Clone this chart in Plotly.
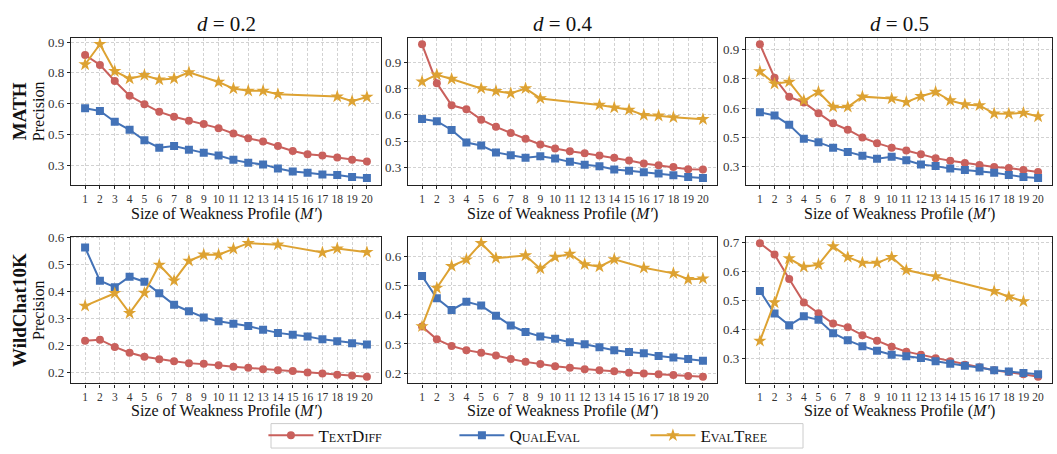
import plotly.graph_objects as go

X = list(range(1, 21))
X_TICKS = [str(v) for v in X]

# ---------------- MATH, d = 0.2 ----------------
math_02_textdiff = [0.837, 0.789, 0.711, 0.639, 0.598, 0.561, 0.537, 0.518, 0.502, 0.482,
                    0.456, 0.433, 0.417, 0.395, 0.371, 0.355, 0.349, 0.339, 0.328, 0.320]
math_02_qualeval = [0.579, 0.565, 0.513, 0.474, 0.423, 0.387, 0.395, 0.377, 0.362, 0.349,
                    0.328, 0.314, 0.306, 0.286, 0.271, 0.265, 0.257, 0.254, 0.245, 0.240]
math_02_evaltree_x = [1, 2, 3, 4, 5, 6, 7, 8, 10, 11, 12, 13, 14, 18, 19, 20]
math_02_evaltree = [0.791, 0.889, 0.758, 0.722, 0.739, 0.717, 0.723, 0.753, 0.706, 0.674,
                    0.663, 0.663, 0.647, 0.635, 0.613, 0.633]

# ---------------- MATH, d = 0.4 ----------------
math_04_textdiff = [1.002, 0.780, 0.654, 0.631, 0.572, 0.531, 0.496, 0.463, 0.430, 0.407,
                    0.391, 0.380, 0.367, 0.354, 0.339, 0.322, 0.311, 0.302, 0.289, 0.287]
math_04_qualeval = [0.576, 0.563, 0.513, 0.441, 0.424, 0.385, 0.369, 0.354, 0.363, 0.350,
                    0.331, 0.315, 0.306, 0.287, 0.280, 0.272, 0.265, 0.254, 0.244, 0.239]
math_04_evaltree_x = [1, 2, 3, 5, 6, 7, 8, 9, 13, 14, 15, 16, 17, 18, 20]
math_04_evaltree = [0.789, 0.828, 0.804, 0.750, 0.735, 0.722, 0.750, 0.693, 0.656, 0.641,
                    0.628, 0.598, 0.594, 0.585, 0.574]

# ---------------- MATH, d = 0.5 ----------------
math_05_textdiff = [0.928, 0.756, 0.658, 0.629, 0.574, 0.522, 0.489, 0.449, 0.420, 0.397,
                    0.382, 0.363, 0.343, 0.330, 0.318, 0.308, 0.298, 0.292, 0.282, 0.272]
math_05_qualeval = [0.579, 0.562, 0.514, 0.442, 0.424, 0.397, 0.375, 0.355, 0.340, 0.350,
                    0.332, 0.310, 0.302, 0.290, 0.282, 0.275, 0.268, 0.257, 0.246, 0.241]
math_05_evaltree_x = [1, 2, 3, 4, 5, 6, 7, 8, 10, 11, 12, 13, 14, 15, 16, 17, 18, 19, 20]
math_05_evaltree = [0.788, 0.725, 0.735, 0.639, 0.683, 0.606, 0.606, 0.659, 0.649, 0.631,
                    0.661, 0.683, 0.639, 0.619, 0.614, 0.572, 0.571, 0.576, 0.557]

# ---------------- WildChat10K, d = 0.2 ----------------
wc_02_textdiff = [0.264, 0.267, 0.247, 0.231, 0.220, 0.213, 0.207, 0.202, 0.200, 0.196,
                  0.192, 0.189, 0.185, 0.182, 0.180, 0.176, 0.173, 0.170, 0.168, 0.164]
wc_02_qualeval = [0.523, 0.431, 0.413, 0.442, 0.428, 0.396, 0.364, 0.346, 0.329, 0.318,
                  0.311, 0.305, 0.295, 0.286, 0.281, 0.276, 0.268, 0.263, 0.257, 0.254]
wc_02_evaltree_x = [1, 3, 4, 5, 6, 7, 8, 9, 10, 11, 12, 14, 17, 18, 20]
wc_02_evaltree = [0.361, 0.396, 0.341, 0.397, 0.475, 0.431, 0.486, 0.503, 0.503, 0.519,
                  0.535, 0.531, 0.509, 0.520, 0.510]

# ---------------- WildChat10K, d = 0.4 ----------------
wc_04_textdiff = [0.360, 0.316, 0.293, 0.279, 0.270, 0.261, 0.249, 0.239, 0.232, 0.224,
                  0.219, 0.214, 0.210, 0.207, 0.202, 0.199, 0.197, 0.194, 0.191, 0.188]
wc_04_qualeval = [0.532, 0.456, 0.416, 0.444, 0.431, 0.396, 0.363, 0.341, 0.326, 0.318,
                  0.306, 0.299, 0.289, 0.279, 0.273, 0.268, 0.259, 0.254, 0.249, 0.243]
wc_04_evaltree_x = [1, 2, 3, 4, 5, 6, 8, 9, 10, 11, 12, 13, 14, 16, 18, 19, 20]
wc_04_evaltree = [0.360, 0.491, 0.566, 0.588, 0.644, 0.593, 0.602, 0.557, 0.597, 0.607,
                  0.572, 0.564, 0.589, 0.560, 0.541, 0.521, 0.523]

# ---------------- WildChat10K, d = 0.5 ----------------
wc_05_textdiff = [0.697, 0.658, 0.573, 0.492, 0.455, 0.419, 0.406, 0.379, 0.360, 0.339,
                  0.322, 0.311, 0.299, 0.289, 0.277, 0.268, 0.258, 0.252, 0.244, 0.235]
wc_05_qualeval = [0.532, 0.454, 0.413, 0.444, 0.432, 0.386, 0.361, 0.341, 0.325, 0.311,
                  0.306, 0.300, 0.289, 0.280, 0.273, 0.267, 0.258, 0.253, 0.248, 0.244]
wc_05_evaltree_x = [1, 2, 3, 4, 5, 6, 7, 8, 9, 10, 11, 13, 17, 18, 19]
wc_05_evaltree = [0.359, 0.492, 0.644, 0.615, 0.623, 0.686, 0.649, 0.629, 0.629, 0.649,
                  0.604, 0.582, 0.531, 0.512, 0.496]

# ---------------- y tick values / labels ----------------
math_yticks = [0.3, 0.45, 0.6, 0.75, 0.9]
math_yticklabels = ["0.3", "0.5", "0.6", "0.8", "0.9"]
wc_02_yticks = [0.175, 0.25, 0.325, 0.4, 0.475, 0.55]
wc_02_yticklabels = ["0.2", "0.2", "0.3", "0.4", "0.5", "0.6"]
wc_04_yticks = [0.2, 0.3, 0.4, 0.5, 0.6]
wc_04_yticklabels = ["0.2", "0.3", "0.4", "0.5", "0.6"]
wc_05_yticks = [0.3, 0.4, 0.5, 0.6, 0.7]
wc_05_yticklabels = ["0.3", "0.4", "0.5", "0.6", "0.7"]

col_titles = ["<i>d</i> = 0.2", "<i>d</i> = 0.4", "<i>d</i> = 0.5"]
row_names = ["MATH", "WildChat10K"]
series_names = ["TextDiff", "QualEval", "EvalTree"]
x_title = "Size of Weakness Profile (<i>M′</i>)"

RED = "#C9605C"
BLUE = "#4372B7"
GOLD = "#DDA232"
FONT = "Liberation Serif"
W, H = 1057, 454

panels = [
    (math_02_textdiff, math_02_qualeval, math_02_evaltree_x, math_02_evaltree, math_yticks, math_yticklabels),
    (math_04_textdiff, math_04_qualeval, math_04_evaltree_x, math_04_evaltree, math_yticks, math_yticklabels),
    (math_05_textdiff, math_05_qualeval, math_05_evaltree_x, math_05_evaltree, math_yticks, math_yticklabels),
    (wc_02_textdiff, wc_02_qualeval, wc_02_evaltree_x, wc_02_evaltree, wc_02_yticks, wc_02_yticklabels),
    (wc_04_textdiff, wc_04_qualeval, wc_04_evaltree_x, wc_04_evaltree, wc_04_yticks, wc_04_yticklabels),
    (wc_05_textdiff, wc_05_qualeval, wc_05_evaltree_x, wc_05_evaltree, wc_05_yticks, wc_05_yticklabels),
]

# plot-area boxes in pixels (left, right) and (top, bottom)
col_px = [(71, 381), (408, 717), (746, 1052)]
row_px = [(32.3, 182.7), (235.7, 386.0)]
xtitle_px = [213, 414]
legend_box_px = (271, 803, 427, 452)  # left, right, top, bottom

fig = go.Figure()
layout = {}
for i, (td, qe, etx, et, ytv, ytt) in enumerate(panels):
    r, c = divmod(i, 3)
    k = i + 1
    xa = "x" if k == 1 else f"x{k}"
    ya = "y" if k == 1 else f"y{k}"
    common = dict(xaxis=xa, yaxis=ya, mode="lines+markers", showlegend=(i == 0))
    fig.add_trace(go.Scatter(x=X, y=td, name=series_names[0], legendgroup="td",
                             line=dict(color=RED, width=2),
                             marker=dict(symbol="circle", size=8, color=RED), **common))
    fig.add_trace(go.Scatter(x=X, y=qe, name=series_names[1], legendgroup="qe",
                             line=dict(color=BLUE, width=2),
                             marker=dict(symbol="square", size=8, color=BLUE), **common))
    fig.add_trace(go.Scatter(x=etx, y=et, name=series_names[2], legendgroup="et",
                             line=dict(color=GOLD, width=2),
                             marker=dict(symbol="star", size=10, color=GOLD), **common))

    allv = td + qe + et
    lo, hi = min(allv), max(allv)
    pad = 0.05 * (hi - lo)

    x0, x1 = col_px[c]
    t, b = row_px[r]
    axis_common = dict(
        showline=True, linecolor="#222", linewidth=1.2, mirror=True,
        ticks="outside", ticklen=3, tickcolor="#222", tickwidth=1,
        showgrid=True, gridcolor="#d2d2d2", griddash="3px,2px", gridwidth=0.8,
        zeroline=False,
    )
    layout["xaxis" if k == 1 else f"xaxis{k}"] = dict(
        domain=[x0 / W, x1 / W], anchor=ya, range=[0.05, 20.95],
        tickmode="array", tickvals=X, ticktext=X_TICKS, tickangle=0,
        tickfont=dict(family=FONT, size=11.5, color="#333"),
        **axis_common)
    layout["yaxis" if k == 1 else f"yaxis{k}"] = dict(
        domain=[1 - b / H, 1 - t / H], anchor=xa, range=[lo - pad, hi + pad],
        tickmode="array", tickvals=ytv, ticktext=ytt,
        tickfont=dict(family=FONT, size=13, color="#333"), **axis_common)

annotations = []
for c, ttl in enumerate(col_titles):
    x0, x1 = col_px[c]
    annotations.append(dict(text=ttl, x=(x0 + x1) / 2 / W, y=1 - 18 / H, xref="paper", yref="paper",
                            showarrow=False, font=dict(family=FONT, size=21, color="#111"),
                            xanchor="center", yanchor="middle"))
    for r in range(2):
        annotations.append(dict(text=x_title, x=(x0 + x1) / 2 / W, y=1 - xtitle_px[r] / H,
                                xref="paper", yref="paper", showarrow=False,
                                font=dict(family=FONT, size=16, color="#111"),
                                xanchor="center", yanchor="middle"))
for r, name in enumerate(row_names):
    t, b = row_px[r]
    yc = 1 - ((t + b) / 2) / H
    annotations.append(dict(text=f"<b>{name}</b>", x=19 / W, y=yc, xref="paper", yref="paper",
                            showarrow=False, textangle=-90,
                            font=dict(family=FONT, size=19, color="#111"),
                            xanchor="center", yanchor="middle"))
    annotations.append(dict(text="Precision", x=38 / W, y=yc, xref="paper", yref="paper",
                            showarrow=False, textangle=-90,
                            font=dict(family=FONT, size=16, color="#111"),
                            xanchor="center", yanchor="middle"))

lx0, lx1, lt, lb = legend_box_px
shapes = [dict(type="rect", xref="paper", yref="paper",
               x0=lx0 / W, x1=lx1 / W, y0=1 - lb / H, y1=1 - lt / H,
               line=dict(color="#cccccc", width=1), fillcolor="rgba(0,0,0,0)", layer="above")]

fig.update_layout(
    width=W, height=H,
    margin=dict(l=0, r=0, t=0, b=0),
    paper_bgcolor="white", plot_bgcolor="white",
    font=dict(family=FONT, color="#111"),
    annotations=annotations,
    shapes=shapes,
    legend=dict(orientation="h", x=(lx0 + lx1) / 2 / W + 0.016, xanchor="center",
                y=1 - (lt + lb) / 2 / H, yanchor="middle",
                borderwidth=0, bgcolor="rgba(0,0,0,0)",
                font=dict(family=FONT, size=17, color="#111", variant="small-caps"),
                entrywidth=135, itemwidth=45, tracegroupgap=0, valign="middle",
                indentation=-4),
    **layout,
)

fig.write_html("out.html")
